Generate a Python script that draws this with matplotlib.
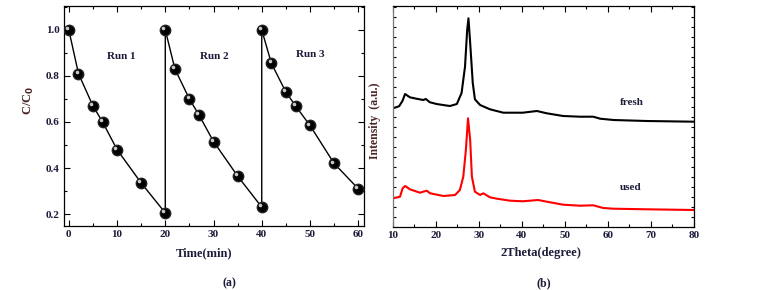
import matplotlib
matplotlib.use("Agg")
import matplotlib.pyplot as plt
from matplotlib.ticker import MultipleLocator
import matplotlib.transforms as mtransforms

# ---- data: panel (a) photocatalytic cycles ----
time_min = [0, 2, 5, 7, 10, 15, 20, 20, 22, 25, 27, 30, 35, 40, 40, 42, 45, 47, 50, 55, 60]
c_over_c0 = [1.0, 0.81, 0.67, 0.60, 0.48, 0.335, 0.205,
             1.0, 0.83, 0.70, 0.63, 0.515, 0.365, 0.23,
             1.0, 0.855, 0.73, 0.67, 0.585, 0.42, 0.31]
run_labels = ["Run 1", "Run 2", "Run 3"]
run_label_x = [10.9, 30.1, 50.0]
run_label_y = [0.884, 0.884, 0.894]

# ---- data: panel (b) XRD patterns ----
theta_fresh = [10.1, 11.5, 12.3, 12.86, 14.0, 15.5, 17.1, 17.7, 18.6, 20.2, 22.0, 23.3, 24.9,
               26.0, 26.8, 27.3, 27.6, 28.0, 28.6, 29.1, 30.3, 32.6, 35.7, 40.2, 43.5,
               45.8, 49.6, 53.5, 56.6, 58.2, 61.3, 69.0, 80.0]
int_fresh = [118.4, 120.5, 126.0, 132.7, 129.4, 128.0, 126.7, 127.7, 124.5, 122.7, 121.5, 120.7, 122.7,
             133.7, 160.0, 196.7, 208.4, 183.7, 143.7, 127.4, 121.7, 117.4, 114.0, 114.0, 115.7,
             113.4, 110.7, 110.0, 110.0, 108.0, 106.7, 105.7, 105.0]
theta_used = [10.1, 11.7, 12.3, 12.9, 14.0, 16.3, 17.9, 18.7, 21.8, 24.5, 25.6, 26.4, 27.0,
              27.5, 28.0, 28.4, 29.1, 30.3, 31.05, 32.6, 34.2, 37.3, 40.2, 43.8,
              45.8, 49.6, 53.5, 56.6, 58.9, 61.3, 69.0, 80.0]
int_used = [28.4, 30.0, 38.4, 40.7, 37.4, 34.0, 36.0, 33.4, 30.7, 31.7, 36.7, 50.0, 76.7,
            108.4, 86.7, 50.0, 35.0, 31.7, 33.4, 29.4, 28.0, 26.0, 25.4, 26.7,
            25.0, 22.0, 21.0, 21.4, 18.7, 18.0, 17.4, 16.7]
label_fresh_pos = (65.5, 124.0)
label_used_pos = (65.3, 39.4)

plt.rcParams['font.family'] = ['Liberation Serif', 'DejaVu Serif']
plt.rcParams['font.weight'] = 'bold'
TXT = '#1c1c3a'
YLAB = '#4a2626'
TICK_FS = 8

fig = plt.figure(figsize=(7.57, 2.90), dpi=100)
ax1 = fig.add_axes([64/757, 1-226/290, 300/757, 220/290])
ax2 = fig.add_axes([392.7/757, 1-226.7/290, 301.3/757, 220.7/290])

for ax in (ax1, ax2):
    ax.tick_params(which='both', direction='in', top=True, right=True, labelsize=TICK_FS,
                   labelcolor=TXT, width=0.8, pad=3)
    ax.tick_params(which='major', length=4)
    ax.tick_params(which='minor', length=2)
    for s in ax.spines.values():
        s.set_linewidth(0.9)

# ---- panel (a) ----
ax1.plot(time_min, c_over_c0, color='black', lw=1.0, marker='o', ms=7.5,
         mfc='black', mec='#222222', zorder=3)
hl = mtransforms.offset_copy(ax1.transData, fig=fig, x=-1.3, y=1.3, units='points')
ax1.plot(time_min, c_over_c0, ls='none', marker='o', ms=2.6, mfc='#c8c8c8', mec='none',
         transform=hl, zorder=4)
ax1.set_xlim(-1.0, 61.2)
ax1.set_ylim(0.148, 1.104)
ax1.xaxis.set_minor_locator(MultipleLocator(5))
ax1.yaxis.set_minor_locator(MultipleLocator(0.1))
ax1.set_yticks([0.2, 0.4, 0.6, 0.8, 1.0])
ax1.set_yticklabels(['0.2', '0.4', '0.6', '0.8', '1.0'], fontweight='bold', fontsize=TICK_FS, color=TXT)
ax1.set_xticks([0, 10, 20, 30, 40, 50, 60])
ax1.set_xticklabels(['0', '10', '20', '30', '40', '50', '60'], fontweight='bold', fontsize=TICK_FS, color=TXT)
for lab, x, y in zip(run_labels, run_label_x, run_label_y):
    ax1.text(x, y, lab, ha='center', va='center', fontsize=8, fontweight='bold', color=TXT)

fig.text(204/757, 1-253/290, 'Time(min)', ha='center', va='center', fontsize=9,
         fontweight='bold', color=TXT)
fig.text(29/757, 1-100/290, r'C/C$_\mathbf{0}$', ha='center', va='center', fontsize=9,
         fontweight='bold', color=YLAB, rotation=90)
fig.text(229/757, 1-283/290, '(a)', ha='center', va='center', fontsize=8.5,
         fontweight='bold', color=TXT)

# ---- panel (b) ----
ax2.plot(theta_fresh, int_fresh, color='black', lw=1.5)
ax2.plot(theta_used, int_used, color='#ff0000', lw=1.5)
ax2.set_xlim(10, 80)
ax2.set_ylim(0, 220.7)
ax2.xaxis.set_minor_locator(MultipleLocator(5))
ax2.yaxis.set_major_locator(MultipleLocator(20))
ax2.yaxis.set_minor_locator(MultipleLocator(10))
ax2.set_xticks([10, 20, 30, 40, 50, 60, 70, 80])
ax2.set_xticklabels(['10', '20', '30', '40', '50', '60', '70', '80'], fontweight='bold', fontsize=TICK_FS, color=TXT)
ax2.tick_params(axis='y', which='both', labelleft=False, length=2)
ax2.spines['left'].set_color('#777777')
ax2.text(*label_fresh_pos, 'fresh', ha='center', va='center', fontsize=8, fontweight='bold', color=TXT)
ax2.text(*label_used_pos, 'used', ha='center', va='center', fontsize=8, fontweight='bold', color=TXT)

fig.text(541/757, 1-253/290, '2Theta(degree)', ha='center', va='center', fontsize=9,
         fontweight='bold', color=TXT)
fig.text(375/757, 1-121/290, 'Intensity  (a.u.)', ha='center', va='center', fontsize=8.5,
         fontweight='bold', color=YLAB, rotation=90)
fig.text(544/757, 1-283/290, '(b)', ha='center', va='center', fontsize=8.5,
         fontweight='bold', color=TXT)

fig.savefig('out.png', dpi=100)
